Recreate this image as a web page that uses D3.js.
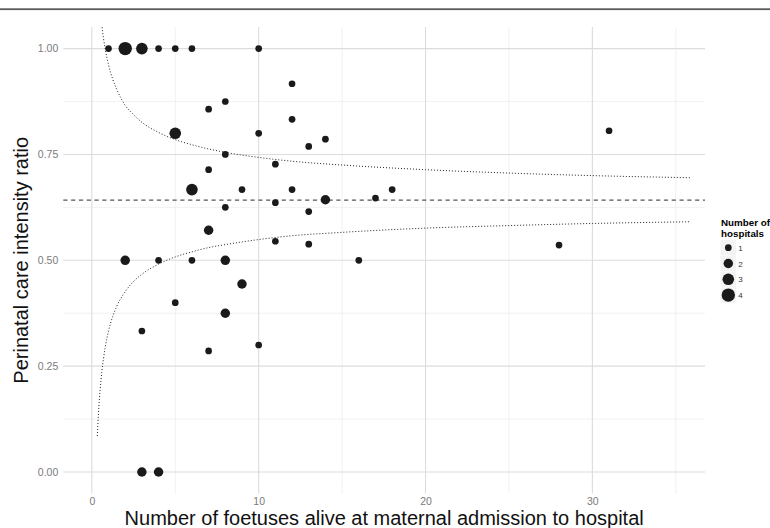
<!DOCTYPE html>
<html>
<head>
<meta charset="utf-8">
<script src="https://cdn.jsdelivr.net/npm/d3@7"></script>
<style>
  body { margin: 0; background: #fff; }
  svg { display: block; font-family: "Liberation Sans", Arial, Helvetica, sans-serif; }
</style>
</head>
<body>
<svg id="chart"></svg>
<script>
// foetuses alive at admission, care intensity ratio, number of hospitals
let foetuses = [1, 2, 3, 4, 5, 6, 10, 12, 8, 7, 12, 5, 10, 14, 13, 8, 11, 7, 6, 9, 12, 18, 17, 14, 11,
                8, 13, 7, 11, 13, 28, 2, 4, 6, 8, 16, 9, 5, 8, 3, 10, 7, 3, 4, 31];
let ratios = [1.00, 1.00, 1.00, 1.00, 1.00, 1.00, 1.00, 0.917, 0.875, 0.857, 0.833, 0.80, 0.80, 0.786,
              0.769, 0.75, 0.727, 0.714, 0.667, 0.667, 0.667, 0.667, 0.647, 0.643, 0.636, 0.625, 0.615,
              0.571, 0.545, 0.538, 0.536, 0.50, 0.50, 0.50, 0.50, 0.50, 0.444, 0.40, 0.375, 0.333,
              0.30, 0.286, 0.00, 0.00, 0.806];
let hospitals = [1, 4, 3, 1, 1, 1, 1, 1, 1, 1, 1, 3, 1, 1, 1, 1, 1, 1, 3, 1, 1, 1, 1, 2, 1,
                 1, 1, 2, 1, 1, 1, 2, 1, 1, 2, 1, 2, 1, 2, 1, 1, 1, 2, 2, 1];

let overallRatio = 0.642;

// funnel limits
let funnelX = [0.33, 0.4, 0.5, 0.6, 0.7, 0.8, 1, 1.25, 1.5, 2, 2.5, 3, 4, 5, 6, 7, 8, 10, 12, 15, 20, 25, 30, 35.9];
let funnelUpper = [1.199, 1.148, 1.095, 1.055, 1.024, 1.000, 0.962, 0.928, 0.903, 0.866, 0.844, 0.826, 0.802,
                   0.785, 0.773, 0.763, 0.755, 0.743, 0.734, 0.725, 0.714, 0.706, 0.700, 0.695];
let funnelLower = [0.085, 0.140, 0.195, 0.237, 0.268, 0.294, 0.333, 0.367, 0.392, 0.426, 0.450, 0.467, 0.491,
                   0.508, 0.520, 0.530, 0.537, 0.549, 0.558, 0.566, 0.576, 0.582, 0.587, 0.591];

let xMajor = [0, 10, 20, 30];
let xMinor = [5, 15, 25, 35];
let yMajor = [0, 0.25, 0.5, 0.75, 1];
let yMinor = [0.125, 0.375, 0.625, 0.875];
let legendValues = [1, 2, 3, 4];

let width = 770;
let height = 528;
let panel = {left: 63.3, right: 705, top: 27, bottom: 493.6};

let points = [];
for (let i = 0; i < foetuses.length; i++) {
    points.push({x: foetuses[i], y: ratios[i], n: hospitals[i]});
}

let svg = d3.select("#chart")
    .attr("width", width)
    .attr("height", height);

// rule across the top of the page
svg.append("rect")
    .attr("x", 0).attr("y", 8.3)
    .attr("width", width).attr("height", 1.8)
    .attr("fill", "#5a5a5a");

let scaleX = d3.scaleLinear().domain([-1.71, 36.75]).range([panel.left, panel.right]);
let scaleY = d3.scaleLinear().domain([-0.051, 1.051]).range([panel.bottom, panel.top]);
let scaleR = d3.scaleSqrt().domain([0, 4]).range([0, 6.7]);

// grid
let grid = svg.append("g");
grid.selectAll(".vminor").data(xMinor).enter().append("line")
    .attr("x1", d => scaleX(d)).attr("x2", d => scaleX(d))
    .attr("y1", panel.top).attr("y2", panel.bottom)
    .attr("stroke", "#eeeeee").attr("stroke-width", 0.8);
grid.selectAll(".hminor").data(yMinor).enter().append("line")
    .attr("x1", panel.left).attr("x2", panel.right)
    .attr("y1", d => scaleY(d)).attr("y2", d => scaleY(d))
    .attr("stroke", "#eeeeee").attr("stroke-width", 0.8);
grid.selectAll(".vmajor").data(xMajor).enter().append("line")
    .attr("x1", d => scaleX(d)).attr("x2", d => scaleX(d))
    .attr("y1", panel.top).attr("y2", panel.bottom)
    .attr("stroke", "#dcdcdc").attr("stroke-width", 1.1);
grid.selectAll(".hmajor").data(yMajor).enter().append("line")
    .attr("x1", panel.left).attr("x2", panel.right)
    .attr("y1", d => scaleY(d)).attr("y2", d => scaleY(d))
    .attr("stroke", "#dcdcdc").attr("stroke-width", 1.1);

// axes (labels only)
let axisX = d3.axisBottom(scaleX).tickValues(xMajor).tickSize(0).tickPadding(4).tickFormat(d3.format("d"));
let axisY = d3.axisLeft(scaleY).tickValues(yMajor).tickSize(0).tickPadding(5).tickFormat(d3.format(".2f"));

let gx = svg.append("g")
    .attr("transform", `translate(0, ${panel.bottom})`)
    .call(axisX);
let gy = svg.append("g")
    .attr("transform", `translate(${panel.left}, 0)`)
    .call(axisY);
[gx, gy].forEach(g => {
    g.select(".domain").remove();
    g.selectAll("text")
        .attr("fill", "#7b7b7b")
        .style("font-size", "10.5px")
        .style("font-family", "'Liberation Sans', Arial, sans-serif");
});

// clip for curves
svg.append("clipPath").attr("id", "panelClip")
    .append("rect")
    .attr("x", panel.left).attr("y", panel.top)
    .attr("width", panel.right - panel.left).attr("height", panel.bottom - panel.top);

let funnel = funnelX.map((d, i) => ({x: d, up: funnelUpper[i], lo: funnelLower[i]}));

let upperLine = d3.line().x(d => scaleX(d.x)).y(d => scaleY(d.up)).curve(d3.curveMonotoneX);
let lowerLine = d3.line().x(d => scaleX(d.x)).y(d => scaleY(d.lo)).curve(d3.curveMonotoneX);

let curves = svg.append("g").attr("clip-path", "url(#panelClip)");
curves.append("path").datum(funnel)
    .attr("d", upperLine)
    .attr("fill", "none").attr("stroke", "#222")
    .attr("stroke-width", 1).attr("stroke-dasharray", "1,2");
curves.append("path").datum(funnel)
    .attr("d", lowerLine)
    .attr("fill", "none").attr("stroke", "#222")
    .attr("stroke-width", 1).attr("stroke-dasharray", "1,2");

// overall ratio
svg.append("line")
    .attr("x1", panel.left).attr("x2", panel.right)
    .attr("y1", scaleY(overallRatio)).attr("y2", scaleY(overallRatio))
    .attr("stroke", "#555").attr("stroke-width", 1.3)
    .attr("stroke-dasharray", "4.2,3.6");

// points
svg.append("g")
    .selectAll(".dot")
    .data(points)
    .enter()
    .append("circle")
    .attr("cx", d => scaleX(d.x))
    .attr("cy", d => scaleY(d.y))
    .attr("r", d => scaleR(d.n))
    .attr("fill", "#1a1a1a");

// axis titles
svg.append("text")
    .attr("x", (panel.left + panel.right) / 2)
    .attr("y", 525)
    .attr("text-anchor", "middle")
    .style("font-size", "20px")
    .attr("fill", "#111")
    .text("Number of foetuses alive at maternal admission to hospital");

svg.append("text")
    .attr("transform", `translate(28, ${(panel.top + panel.bottom) / 2}) rotate(-90)`)
    .attr("text-anchor", "middle")
    .style("font-size", "20px")
    .attr("fill", "#111")
    .text("Perinatal care intensity ratio");

// legend
let legend = svg.append("g");
legend.append("text")
    .attr("x", 721).attr("y", 226)
    .style("font-size", "9.8px").style("font-weight", "bold")
    .text("Number of");
legend.append("text")
    .attr("x", 721).attr("y", 237)
    .style("font-size", "9.8px").style("font-weight", "bold")
    .text("hospitals");

let keys = legend.selectAll(".key")
    .data(legendValues)
    .enter()
    .append("g")
    .attr("transform", (d, i) => `translate(728.3, ${247.7 + i * 15.8})`);
keys.append("rect")
    .attr("x", -7.8).attr("y", -7.8)
    .attr("width", 15.6).attr("height", 15.6)
    .attr("fill", "#f3f3f3");
keys.append("circle")
    .attr("r", d => scaleR(d))
    .attr("fill", "#1a1a1a");
keys.append("text")
    .attr("x", 10).attr("y", 3)
    .style("font-size", "8px")
    .attr("fill", "#333")
    .text(d => d);
</script>
</body>
</html>
